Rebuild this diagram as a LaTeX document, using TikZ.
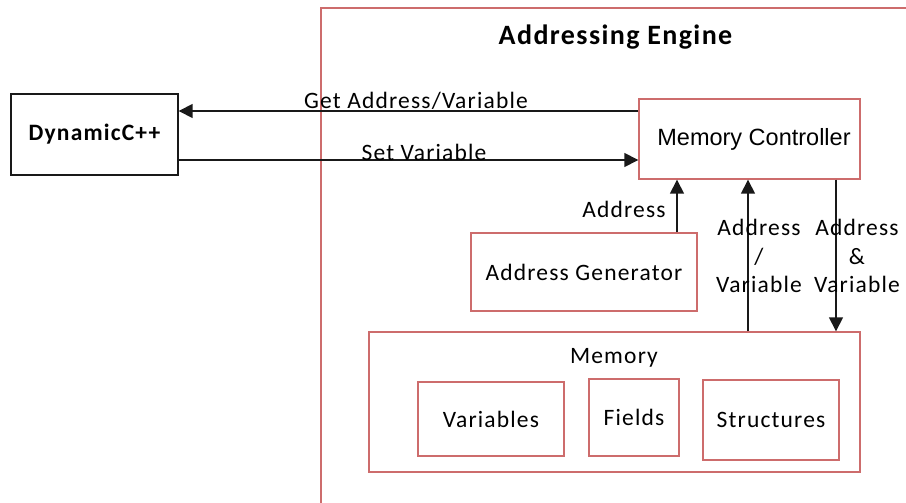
\documentclass[tikz,border=0pt]{standalone}
\usepackage{fontspec}
\setmainfont{Carlito}[LetterSpace=5]
\newfontfamily\arialfont{Liberation Sans}
\usetikzlibrary{arrows.meta}
\definecolor{boxred}{RGB}{205,108,108}
\definecolor{linegray}{RGB}{25,25,25}
\tikzset{
  txt/.style={font=\fontsize{23.5}{28.5}\selectfont, inner sep=0pt, align=center},
  redbox/.style={draw=boxred, line width=1.4pt, rectangle, inner sep=0pt, txt},
  blackbox/.style={draw=linegray, line width=1.4pt, rectangle, inner sep=0pt, txt},
  arr/.style={draw=linegray, line width=1.5pt, -{Triangle[length=14pt,width=14pt]}},
}
\begin{document}
\begin{tikzpicture}[x=1pt, y=-1pt]
\useasboundingbox (0,0) rectangle (906,503);

% outer engine frame (open to the right and bottom)
\draw[boxred, line width=1.4pt] (321,503) -- (321,8) -- (906,8);
\node[txt, font=\fontsize{28}{32}\selectfont\bfseries] (title) at (615.5,37) {Addressing Engine};

% external client
\node[blackbox, minimum width=167pt, minimum height=81pt, font=\fontsize{23.5}{28}\selectfont\bfseries] (dyn) at (94.5,134.5) {DynamicC++};

% engine components
\node[redbox, minimum width=221pt, minimum height=80pt, font=\arialfont\fontsize{23.5}{28}\selectfont] (mc) at (749.5,139) {\hspace*{9pt}Memory Controller};
\node[redbox, minimum width=226pt, minimum height=78pt] (ag) at (584,272) {Address Generator};
\node[redbox, minimum width=491pt, minimum height=140pt] (mem) at (614.5,402) {};
\node[txt] (memlbl) at (614,358) {Memory};
\node[redbox, minimum width=146pt, minimum height=74pt] (vars) at (491,419) {Variables};
\node[redbox, minimum width=90pt, minimum height=77pt] (flds) at (634,417.5) {Fields};
\node[redbox, minimum width=136pt, minimum height=80pt] (strs) at (771,420) {Structures};

% helper coordinates for connector positions
\coordinate (gety) at (0,111);
\coordinate (sety) at (0,160);
\coordinate (xa) at (677,0);
\coordinate (xb) at (748,0);
\coordinate (xc) at (836,0);

% connectors
\draw[arr] (mc.west |- gety) -- (dyn.east |- gety);
\node[txt] (getlbl) at (416,101) {Get Address/Variable};
\draw[arr] (dyn.east |- sety) -- (mc.west |- sety);
\node[txt] (setlbl) at (424,152) {Set Variable};

\draw[arr] (xa |- ag.north) -- (xa |- mc.south);
\node[txt] (alabel) at (624,209) {Address};
\draw[arr] (xb |- mem.north) -- (xb |- mc.south);
\node[txt] (avlabel) at (759,256) {Address\\/\\Variable};
\draw[arr] (xc |- mc.south) -- (xc |- mem.north);
\node[txt] (aandv) at (857,256) {Address\\\&\\Variable};
\end{tikzpicture}
\end{document}
